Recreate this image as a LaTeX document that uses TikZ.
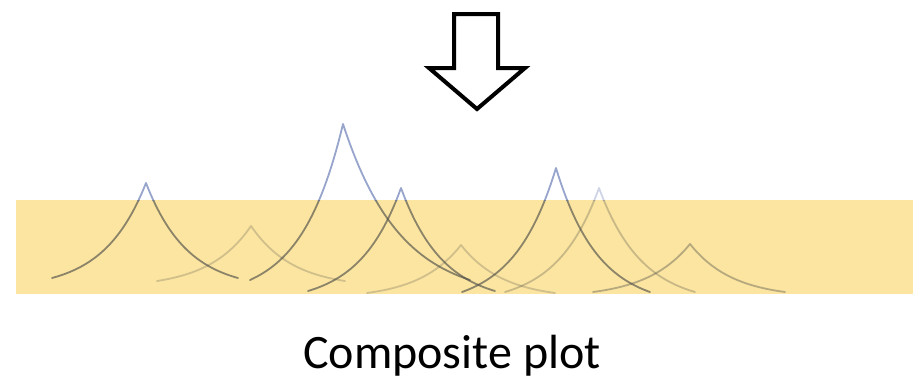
\documentclass[tikz,border=0pt]{standalone}
\usepackage{fontspec}
\setmainfont{Carlito}
\definecolor{bandyellow}{RGB}{252,229,160}
\definecolor{curvegray}{RGB}{80,80,75}
\definecolor{curveblue}{RGB}{95,115,175}
\tikzset{
  bigarrow/.style={draw=black,line width=4pt,fill=white,line join=miter},
  cuspline/.style={line width=1.8pt,line join=round,line cap=round},
  caption/.style={font=\fontsize{48}{56}\selectfont,inner sep=0pt,anchor=base}
}
% #1 peak x, #2 peak y, #3 left end x, #4 right end x, #5 base y, #6 opacity
\newcommand\cuspcurve[6]{%
  \pgfmathsetmacro\cDL{#1-#3}\pgfmathsetmacro\cDR{#4-#1}%
  \draw[cuspline,opacity=#6]
    plot[domain=1:0,samples=40] ({#1-\x*\cDL},{#5-(#5-#2)*(exp(-\x/0.45)-0.1084)/0.8916})
    -- plot[domain=0:1,samples=40] ({#1+\x*\cDR},{#5-(#5-#2)*(exp(-\x/0.45)-0.1084)/0.8916});
}
\newcommand\allcusps{%
  \cuspcurve{146}{183}{52}{238}{278}{0.65}
  \cuspcurve{251}{226}{157}{345}{281}{0.25}
  \cuspcurve{343}{124}{250}{470}{280}{0.65}
  \cuspcurve{401}{188}{308}{495}{291}{0.65}
  \cuspcurve{461}{245}{367}{555}{293}{0.25}
  \cuspcurve{556}{168}{462}{650}{292}{0.65}
  \cuspcurve{599}{188}{505}{695}{292}{0.3}
  \cuspcurve{690}{244}{593}{785}{292}{0.4}
}
\begin{document}
\begin{tikzpicture}[x=1pt,y=-1pt]
\useasboundingbox (0,0) rectangle (913,381);
\fill[bandyellow] (16,200) rectangle (913,294);
% curves: grey inside band, blue-grey above
\begin{scope}
  \clip (0,200) rectangle (913,381);
  \begin{scope}[color=curvegray]\allcusps\end{scope}
\end{scope}
\begin{scope}
  \clip (0,0) rectangle (913,200);
  \begin{scope}[color=curveblue]\allcusps\end{scope}
\end{scope}
% arrow
\draw[bigarrow] (454,14) coordinate (a1) -- (498,14) -- (498,68) -- (525,68) -- (477,109) coordinate (tip) -- (429,68) -- (454,68) -- cycle;
\node[caption] (cap) at (452,368) {Composite plot};
\end{tikzpicture}
\end{document}
